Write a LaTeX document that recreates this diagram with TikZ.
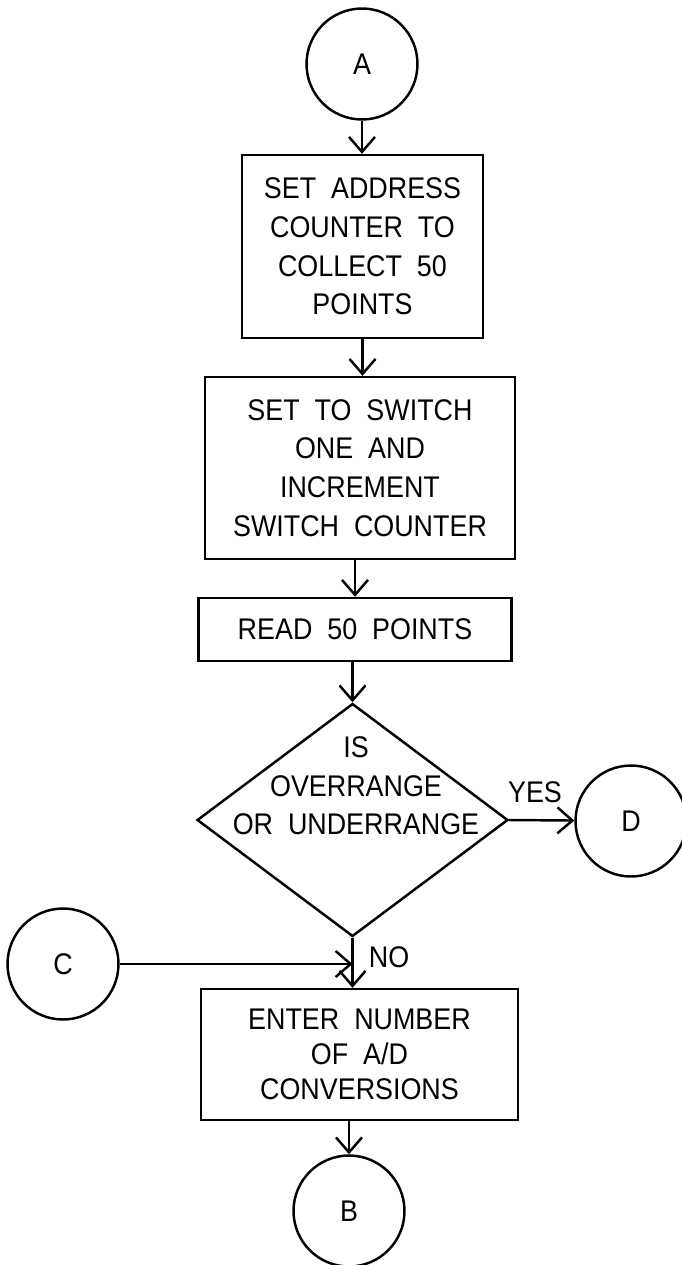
\documentclass[tikz,border=0pt]{standalone}
\usepackage{fontspec}
\setmainfont[FakeStretch=0.9,WordSpace=2]{Liberation Sans}
\usetikzlibrary{shapes.geometric}
\usetikzlibrary{arrows.meta}
\tikzset{>={Straight Barb[length=3mm,width=5.2mm]}}
\tikzset{
  conn/.style={draw, circle, line width=1.4pt, minimum size=2.22cm, inner sep=0pt},
  procbox/.style={draw, rectangle, line width=1.4pt, inner sep=0pt, align=center},
  decision/.style={draw, diamond, line width=1.4pt, inner sep=0pt,
    minimum width=6.22cm, minimum height=4.66cm},
  flow/.style={->, line width=1.4pt},
}

\begin{document}
\begin{tikzpicture}[x=0.02cm, y=-0.02cm, font=\fontsize{17}{22}\selectfont]
  \useasboundingbox (0,0) rectangle (682,1265);

  % 连接点
  \node[conn] (A) at (362,64) {A};
  \node[conn] (D) at (631,821) {D};
  \node[conn] (C) at (63,964) {C};
  \node[conn] (B) at (349,1211) {B};

  % 处理框
  \node[procbox, minimum width=4.82cm, minimum height=3.66cm] (setaddr) at (362.5,246.5)
    {SET ADDRESS\\COUNTER TO\\COLLECT 50\\POINTS};
  \node[procbox, minimum width=6.2cm, minimum height=3.64cm] (setswitch) at (360,468)
    {SET TO SWITCH\\ONE AND\\INCREMENT\\SWITCH COUNTER};
  \node[procbox, minimum width=6.26cm, minimum height=1.26cm] (read) at (355,629.5)
    {READ 50 POINTS};
  \node[procbox, minimum width=6.34cm, minimum height=2.62cm,
    font=\fontsize{17}{20}\selectfont] (enter) at (359.5,1054.5)
    {ENTER NUMBER\\OF A/D\hspace*{0.76cm}\\CONVERSIONS};

  % 判断
  \node[decision] (range) at (352.5,820) {};
  \node[align=center] (rangetext) at (356,786) {IS\\OVERRANGE\\OR UNDERRANGE};

  % 连线
  \coordinate (join) at (range.south |- C.east);
  \draw[flow] (A) -- (A |- setaddr.north);
  \draw[flow] (setaddr) -- (setaddr |- setswitch.north);
  \draw[flow] (setswitch.south -| read.north) -- (read);
  \draw[flow] (read.south -| range.north) -- (range.north);
  \draw[flow] (range.east) -- (D);
  \draw[flow] (range.south) -- (range.south |- enter.north);
  \draw[flow] (C) -- (join);
  \draw[flow] (enter.south -| B.north) -- (B);

  % 标签
  \node (yes) at (535,792) {YES};
  \node (no) at (389,957) {NO};
\end{tikzpicture}
\end{document}
